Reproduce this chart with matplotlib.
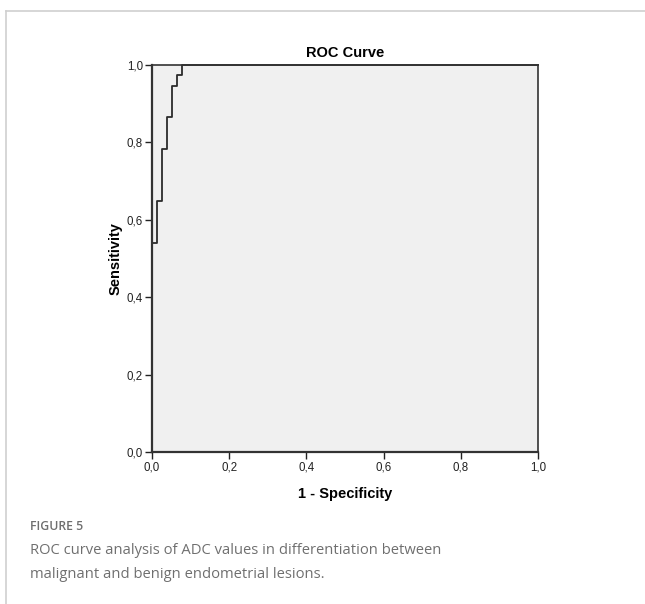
import matplotlib
matplotlib.use("Agg")
import matplotlib.pyplot as plt
from matplotlib.lines import Line2D

# ROC points (1 - specificity, sensitivity)
fpr = [0.0, 0.0, 0.013, 0.026, 0.039, 0.052, 0.065, 0.078, 1.0]
tpr = [0.0, 0.541, 0.649, 0.784, 0.865, 0.946, 0.973, 1.0, 1.0]

ticks = [0.0, 0.2, 0.4, 0.6, 0.8, 1.0]
tick_labels = ["0,0", "0,2", "0,4", "0,6", "0,8", "1,0"]

plt.rcParams["font.family"] = ["Liberation Sans", "DejaVu Sans"]

fig = plt.figure(figsize=(6.45, 6.04), dpi=100)
ax = fig.add_axes([152 / 645, 1 - 452 / 604, 386 / 645, 387 / 604])
ax.set_facecolor("#f0f0f0")

ax.plot(fpr, tpr, drawstyle="steps-post", color="#2b2b2b", lw=1.3, clip_on=False)

ax.set_xlim(0, 1)
ax.set_ylim(0, 1)
ax.set_xticks(ticks)
ax.set_xticklabels(tick_labels)
ax.set_yticks(ticks)
ax.set_yticklabels(tick_labels)
ax.tick_params(direction="out", length=5, width=1, labelsize=8.3, colors="#222222", pad=1.5)

for s in ax.spines.values():
    s.set_color("#333333")
    s.set_linewidth(1.2)
ax.spines["left"].set_linewidth(1.6)
ax.spines["bottom"].set_linewidth(1.6)

ax.set_title("ROC Curve", fontsize=10.5, fontweight="bold", pad=6)
ax.set_xlabel("1 - Specificity", fontsize=10.5, fontweight="bold", labelpad=10)
ax.set_ylabel("Sensitivity", fontsize=10.5, fontweight="bold", labelpad=3)

# page frame around the figure panel
fig.add_artist(Line2D([5.5 / 645, 1], [1 - 11 / 604, 1 - 11 / 604], color="#cfcfcf", lw=1.2))
fig.add_artist(Line2D([5.5 / 645, 5.5 / 645], [0, 1 - 11 / 604], color="#cfcfcf", lw=1.2))

fig.text(30 / 645, 1 - 526 / 604, "FIGURE 5", fontsize=8.8, fontweight="semibold",
         color="#6f6f6f", family="Open Sans", va="center")
fig.text(30 / 645, 1 - 550 / 604, "ROC curve analysis of ADC values in differentiation between",
         fontsize=10.6, color="#6f6f6f", family="Open Sans", va="center")
fig.text(30 / 645, 1 - 574 / 604, "malignant and benign endometrial lesions.",
         fontsize=10.6, color="#6f6f6f", family="Open Sans", va="center")

fig.savefig("out.png", dpi=100)
